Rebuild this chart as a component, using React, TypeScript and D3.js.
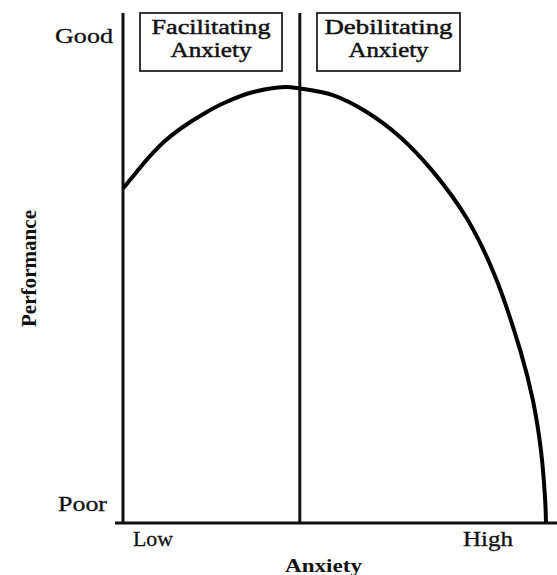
import React from "react";
import * as d3 from "d3";

const anxiety = [0, 2.8, 6.0, 9.9, 13.9, 19.4, 24.0, 30.8, 38.3, 41.8, 49.6, 57.6, 65.5, 73.3, 81.3, 87.5, 93.9, 96.9, 98.8, 99.8, 100];
const performance = [65.6, 68.4, 71.6, 74.9, 77.5, 80.4, 82.4, 84.5, 85.5, 85.2, 83.9, 80.6, 75.7, 68.9, 59.7, 49.3, 33.9, 24.1, 14.3, 4.5, 0];
const yLabels = ["Poor", "Good"];
const xLabels = ["Low", "High"];
const zoneLabels = [["Facilitating", "Anxiety"], ["Debilitating", "Anxiety"]];
const divider = 41.8;
const xTitle = "Anxiety";
const yTitle = "Performance";

export default function App() {
  const W = 557, H = 575;
  const x = d3.scaleLinear().domain([0, 100]).range([123, 546]);
  const y = d3.scaleLinear().domain([0, 100]).range([523, 13]);
  const pts: [number, number][] = anxiety.map((a, i) => [a, performance[i]]);
  const line = d3.line<[number, number]>().x(d => x(d[0])).y(d => y(d[1])).curve(d3.curveCatmullRom.alpha(0.5));
  const font = "'Liberation Serif', 'Times New Roman', serif";
  const boxes = [
    { x0: 140, x1: 282, w: [119, 81] },
    { x0: 317, x1: 460, w: [128, 80] },
  ];
  const ink = "#111";
  return (
    <svg width={W} height={H} style={{ position: "absolute", left: 0, top: 0, background: "#fff" }} fontFamily={font}>
      <rect width={W} height={H} fill="#fff" />
      <line x1={x(0)} x2={x(0)} y1={y(100)} y2={y(0)} stroke={ink} strokeWidth={3} />
      <line x1={115} x2={557} y1={y(0)} y2={y(0)} stroke={ink} strokeWidth={3} />
      <line x1={x(divider)} x2={x(divider)} y1={y(100)} y2={y(0)} stroke={ink} strokeWidth={3} />
      {boxes.map((b, i) => (
        <g key={i}>
          <rect x={b.x0} y={13} width={b.x1 - b.x0} height={58} fill="#fff" stroke="#222" strokeWidth={1.8} />
          <text x={(b.x0 + b.x1) / 2} y={34} textAnchor="middle" fontSize={22} textLength={b.w[0]} lengthAdjust="spacingAndGlyphs" fill={ink} stroke={ink} strokeWidth={0.5}>{zoneLabels[i][0]}</text>
          <text x={(b.x0 + b.x1) / 2} y={57} textAnchor="middle" fontSize={22} textLength={b.w[1]} lengthAdjust="spacingAndGlyphs" fill={ink} stroke={ink} strokeWidth={0.5}>{zoneLabels[i][1]}</text>
        </g>
      ))}
      <path d={line(pts) || ""} fill="none" stroke="#000" strokeWidth={4} />
      <text x={55} y={43} fontSize={22} textLength={58} lengthAdjust="spacingAndGlyphs" fill={ink} stroke={ink} strokeWidth={0.3}>{yLabels[1]}</text>
      <text x={58} y={511} fontSize={22} textLength={49} lengthAdjust="spacingAndGlyphs" fill={ink} stroke={ink} strokeWidth={0.3}>{yLabels[0]}</text>
      <text x={133} y={546} fontSize={22} textLength={40} lengthAdjust="spacingAndGlyphs" fill={ink} stroke={ink} strokeWidth={0.3}>{xLabels[0]}</text>
      <text x={463} y={546} fontSize={22} textLength={50} lengthAdjust="spacingAndGlyphs" fill={ink} stroke={ink} strokeWidth={0.3}>{xLabels[1]}</text>
      <text x={285} y={572} fontSize={19} fontWeight="bold" textLength={77} lengthAdjust="spacingAndGlyphs" fill={ink}>{xTitle}</text>
      <text transform="translate(36,327) rotate(-90)" fontSize={20} fontWeight="bold" textLength={117} lengthAdjust="spacingAndGlyphs" fill={ink}>{yTitle}</text>
    </svg>
  );
}
